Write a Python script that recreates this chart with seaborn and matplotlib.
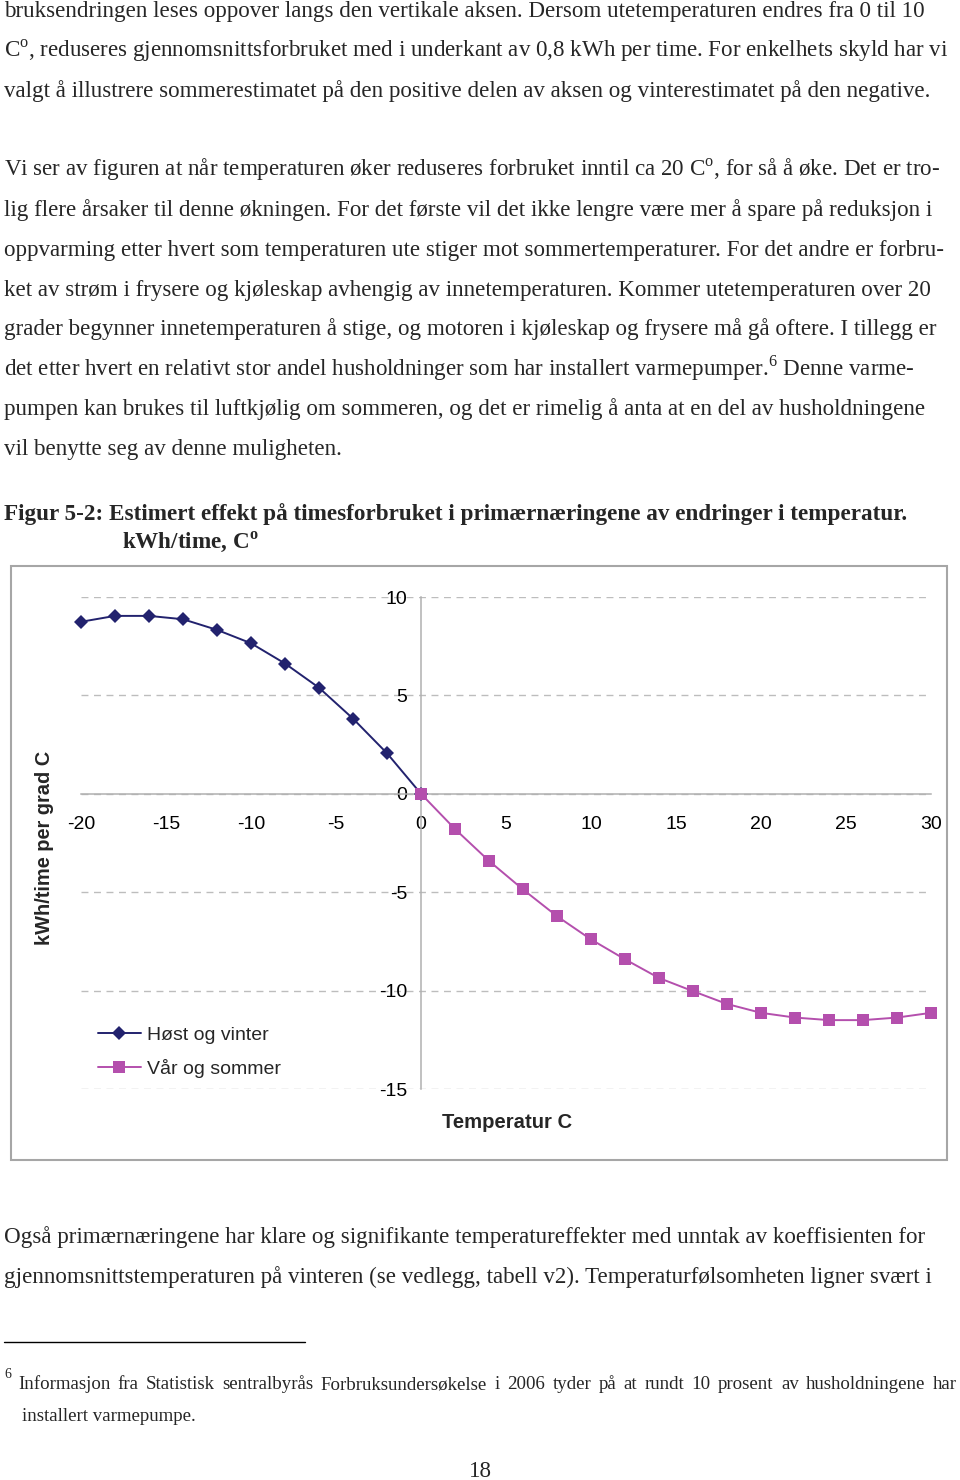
import pandas as pd
import seaborn as sns
import matplotlib.pyplot as plt
from matplotlib.patches import Rectangle
from matplotlib.lines import Line2D

sns.set_style("white")
plt.rcParams['font.family'] = ['Liberation Sans', 'DejaVu Sans']
plt.rcParams['axes.unicode_minus'] = False
plt.rcParams['mathtext.fontset'] = 'custom'
plt.rcParams['mathtext.rm'] = 'Liberation Serif'
plt.rcParams['mathtext.bf'] = 'Liberation Serif:bold'

# data
temp_winter = [-20, -18, -16, -14, -12, -10, -8, -6, -4, -2, 0]
winter = [8.74, 9.04, 9.04, 8.87, 8.33, 7.65, 6.62, 5.39, 3.82, 2.06, 0.0]
temp_summer = [0, 2, 4, 6, 8, 10, 12, 14, 16, 18, 20, 22, 24, 26, 28, 30]
summer = [0.0, -1.79, -3.41, -4.86, -6.22, -7.40, -8.41, -9.36, -10.03,
          -10.68, -11.13, -11.37, -11.50, -11.50, -11.37, -11.13]
x_ticks = [-20, -15, -10, -5, 0, 5, 10, 15, 20, 25, 30]
y_ticks = [-15, -10, -5, 0, 5, 10]
series_names = ['Høst og vinter', 'Vår og sommer']

body_top = [
    "bruksendringen leses oppover langs den vertikale aksen. Dersom utetemperaturen endres fra 0 til 10",
    "C$^{\\mathrm{o}}$, reduseres gjennomsnittsforbruket med i underkant av 0,8 kWh per time. For enkelhets skyld har vi",
    "valgt å illustrere sommerestimatet på den positive delen av aksen og vinterestimatet på den negative.",
    None,
    "Vi ser av figuren at når temperaturen øker reduseres forbruket inntil ca 20 C$^{\\mathrm{o}}$, for så å øke. Det er tro-",
    "lig flere årsaker til denne økningen. For det første vil det ikke lengre være mer å spare på reduksjon i",
    "oppvarming etter hvert som temperaturen ute stiger mot sommertemperaturer. For det andre er forbru-",
    "ket av strøm i frysere og kjøleskap avhengig av innetemperaturen. Kommer utetemperaturen over 20",
    "grader begynner innetemperaturen å stige, og motoren i kjøleskap og frysere må gå oftere. I tillegg er",
    "det etter hvert en relativt stor andel husholdninger som har installert varmepumper.$^{6}$ Denne varme-",
    "pumpen kan brukes til luftkjølig om sommeren, og det er rimelig å anta at en del av husholdningene",
    "vil benytte seg av denne muligheten.",
]
body_bottom = [
    "Også primærnæringene har klare og signifikante temperatureffekter med unntak av koeffisienten for",
    "gjennomsnittstemperaturen på vinteren (se vedlegg, tabell v2). Temperaturfølsomheten ligner svært i",
]
fig_title = "Figur 5-2: Estimert effekt på timesforbruket i primærnæringene av endringer i temperatur."
fig_sub = "kWh/time, C$^{\\mathbf{o}}$"
footnote = ["Informasjon fra Statistisk sentralbyrås Forbruksundersøkelse i 2006 tyder på at rundt 10 prosent av husholdningene har",
            "installert varmepumpe."]

W, H = 960, 1480
fig = plt.figure(figsize=(W / 100, H / 100), dpi=100)


def fy(y):
    return 1 - y / H


def ftext(x, y, s, **kw):
    kw.setdefault('family', 'Liberation Serif')
    kw.setdefault('va', 'baseline')
    return fig.text(x / W, fy(y), s, **kw)


def justified(x0, x1, y, s, **kw):
    # spread the words of one line between x0 and x1 (pixels)
    renderer = fig.canvas.get_renderer()
    words = s.split()
    items = [ftext(0, y, w, **kw) for w in words]
    widths = [t.get_window_extent(renderer).width for t in items]
    gap = (x1 - x0 - sum(widths)) / (len(words) - 1)
    x = x0
    for t, w in zip(items, widths):
        t.set_x(x / W)
        x += w + gap


body_size = 16.6
for i, line in enumerate(body_top):
    if line:
        ftext(4, 17 + 39.8 * i, line, fontsize=body_size)
ftext(4, 520, fig_title, fontsize=16.7, weight='bold')
ftext(122, 548, fig_sub, fontsize=16.7, weight='bold')
for i, line in enumerate(body_bottom):
    ftext(4, 1243 + 40 * i, line, fontsize=body_size)

fig.add_artist(Line2D([4 / W, 305 / W], [fy(1342), fy(1342)], color='black', lw=1))
ftext(4, 1378, "6", fontsize=10)
justified(18, 957, 1389, footnote[0], fontsize=13.6)
ftext(22, 1421, footnote[1], fontsize=13.6)
ftext(480, 1477, "18", fontsize=body_size, ha='center')

# chart frame
fig.add_artist(Rectangle((11 / W, fy(1160)), 936 / W, 594 / H, transform=fig.transFigure,
                         fill=False, edgecolor='#a6a6a6', lw=1.5))

ax = fig.add_axes([81 / W, fy(1089), 850 / W, 492 / H])
ax.set_facecolor('none')

df_w = pd.DataFrame({'temp': temp_winter, 'value': winter})
df_s = pd.DataFrame({'temp': temp_summer, 'value': summer})
sns.lineplot(data=df_w, x='temp', y='value', ax=ax, color='#22226e', lw=1.4,
             marker='D', markersize=6.8, markeredgewidth=0, label=series_names[0],
             zorder=3, clip_on=False)
sns.lineplot(data=df_s, x='temp', y='value', ax=ax, color='#b44fad', lw=1.4,
             marker='s', markersize=8, markeredgewidth=0, label=series_names[1],
             zorder=4, clip_on=False)

ax.set_xlim(-20, 30)
ax.set_ylim(-15, 10)
ax.set_xticks(x_ticks)
ax.set_yticks(y_ticks)
ax.set_xlabel('')
ax.set_ylabel('')
for side in ['top', 'right']:
    ax.spines[side].set_visible(False)
for side in ['left', 'bottom']:
    ax.spines[side].set_position(('data', 0))
    ax.spines[side].set_color('#b0b0b0')
    ax.spines[side].set_linewidth(1.1)
ax.yaxis.grid(True, linestyle=(0, (5, 4)), color='#bdbdbd', lw=1)
ax.xaxis.grid(False)
ax.tick_params(axis='x', direction='out', length=4, pad=12, color='#b0b0b0', labelsize=14, labelcolor='black')
ax.tick_params(axis='y', direction='out', length=4, pad=6, color='#b0b0b0', labelsize=14, labelcolor='black')

leg = ax.legend(loc='center left', bbox_to_anchor=(98 / W, fy(1052)), bbox_transform=fig.transFigure,
                frameon=False, fontsize=14, handlelength=2.2, handletextpad=0.3,
                labelspacing=0.75, borderpad=0, borderaxespad=0)

fig.text(507 / W, fy(1123), 'Temperatur C', ha='center', va='center', fontsize=14.6, weight='bold')
fig.text(45 / W, fy(848), 'kWh/time per grad C', ha='center', va='center', rotation=90,
         fontsize=14.4, weight='bold')

fig.savefig('out.png', dpi=100)
